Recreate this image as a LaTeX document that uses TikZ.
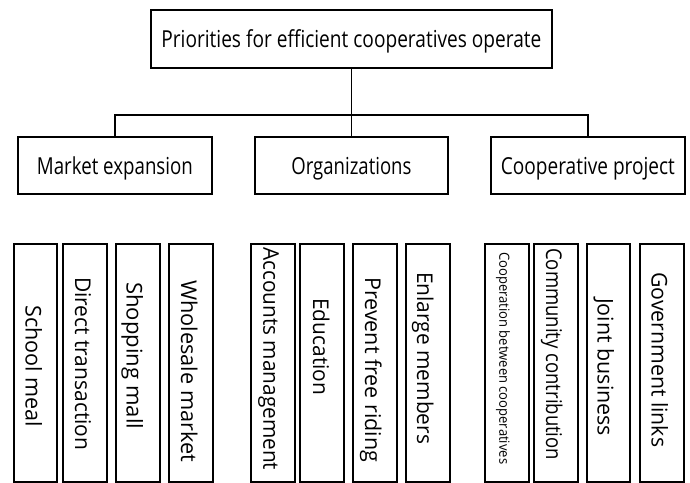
\documentclass[tikz,border=0pt]{standalone}
\usepackage{fontspec}
\usepackage{graphicx}
\setmainfont{Open Sans}
\begin{document}
\begin{tikzpicture}[x=1pt,y=-1pt,
  box/.style={draw=black, line width=1.8pt, inner sep=0pt, anchor=north west},
  headbox/.style={box, font=\fontsize{23.4}{28}\selectfont, text depth=0pt},
  tallbox/.style={box, minimum width=44pt, minimum height=238pt},
  conn/.style={draw=black, line width=1.8pt},
  vlabel/.style={rotate=-90, anchor=base west, inner sep=0pt, font=\fontsize{21.7}{26}\selectfont},
  smalllabel/.style={vlabel, font=\fontsize{14}{17}\selectfont}
]
\useasboundingbox[fill=white] (0,0) rectangle (690,482);

% top and second level
\node[headbox, text height=17.4pt, minimum width=401pt, minimum height=58pt] (top) at (150,9)
  {\resizebox{380pt}{\height}{Priorities for efficient cooperatives operate}};
\node[headbox, text height=19pt, minimum width=194pt, minimum height=57pt] (me) at (17,136)
  {\resizebox{156pt}{\height}{Market expansion}};
\node[headbox, text height=19pt, minimum width=193pt, minimum height=57pt] (org) at (254,136)
  {\resizebox{120pt}{\height}{Organizations}};
\node[headbox, text height=19pt, minimum width=194pt, minimum height=57pt] (cp) at (490,136)
  {\resizebox{174pt}{\height}{Cooperative project}};

\coordinate (hub) at (top.south |- 0,115);
\draw[conn] (top.south) -- (org.north);
\draw[conn] (me.north) |- (hub) -| (cp.north);

% bottom boxes
\node[tallbox, minimum width=43pt] (b1) at (13,243) {};
\node[tallbox] (b2) at (62,243) {};
\node[tallbox] (b3) at (115,243) {};
\node[tallbox] (b4) at (168,243) {};
\node[tallbox] (b5) at (250,243) {};
\node[tallbox] (b6) at (299,243) {};
\node[tallbox] (b7) at (352,243) {};
\node[tallbox] (b8) at (405,243) {};
\node[tallbox] (b9) at (484,243) {};
\node[tallbox] (b10) at (533,243) {};
\node[tallbox, minimum width=43pt] (b11) at (586,243) {};
\node[tallbox] (b12) at (639,243) {};

% labels
\node[vlabel] (t1) at (25.5,305) {\resizebox{122pt}{\height}{School meal}};
\node[vlabel] (t2) at (75,277) {\resizebox{173pt}{\height}{Direct transaction}};
\node[vlabel] (t3) at (126.7,282) {\resizebox{147pt}{\height}{Shopping mall}};
\node[vlabel] (t4) at (181,280) {\resizebox{182pt}{\height}{Wholesale market}};
\node[vlabel] (t5) at (263.3,247) {\resizebox{223pt}{\height}{Accounts management}};
\node[vlabel] (t6) at (313,298) {\resizebox{97pt}{\height}{Education}};
\node[vlabel] (t7) at (365,277) {\resizebox{185pt}{\height}{Prevent free riding}};
\node[vlabel] (t8) at (417,272) {\resizebox{172pt}{\height}{Enlarge members}};
\node[smalllabel] (t9) at (499.3,252) {\resizebox{212pt}{\height}{Cooperation between cooperatives}};
\node[vlabel] (t10) at (546,248) {\resizebox{212pt}{\height}{Community contribution}};
\node[vlabel] (t11) at (597.5,298) {\resizebox{138pt}{\height}{Joint business}};
\node[vlabel] (t12) at (651.7,272) {\resizebox{175pt}{\height}{Government links}};
\end{tikzpicture}
\end{document}
